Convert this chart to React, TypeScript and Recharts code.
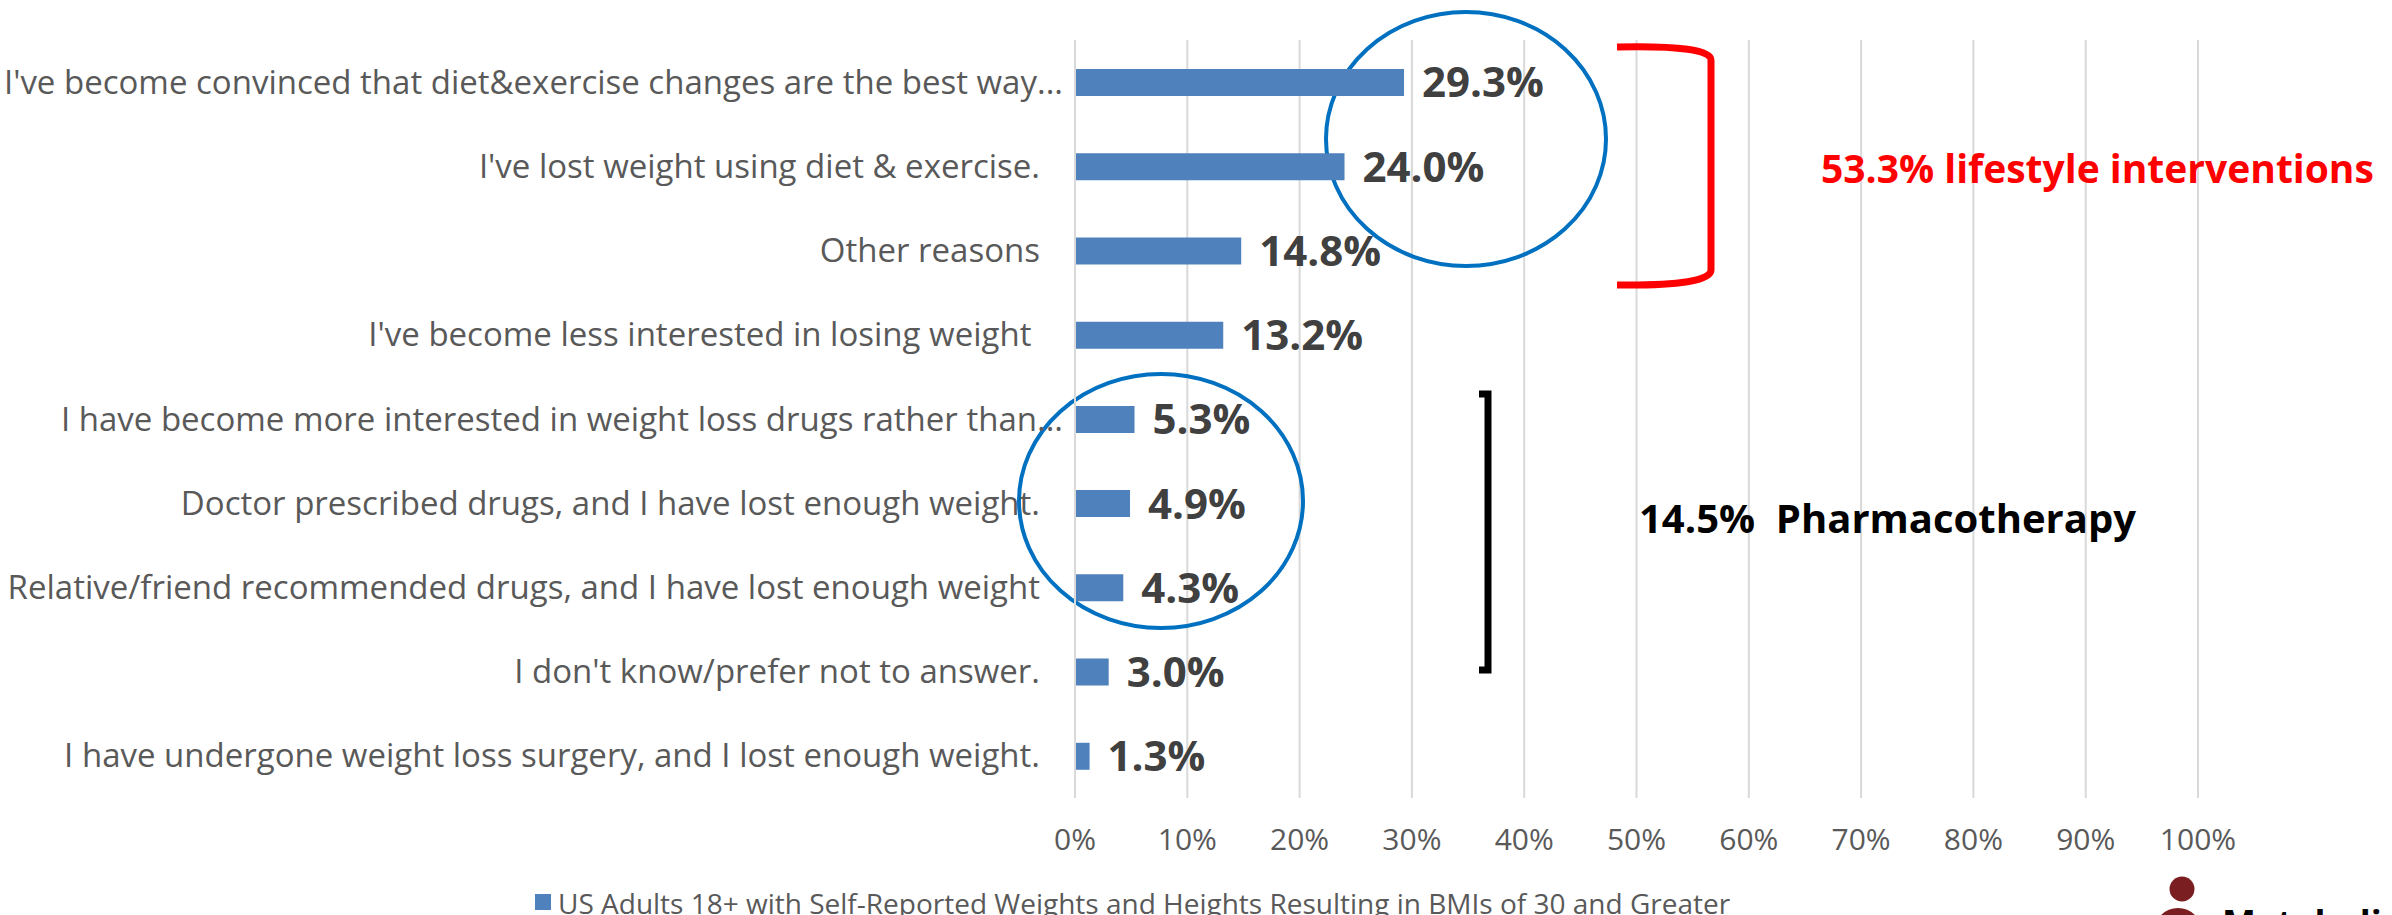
import React from "react";
import {
  Bar,
  BarChart,
  CartesianGrid,
  Customized,
  LabelList,
  Legend,
  XAxis,
  YAxis,
} from "recharts";

const reasons = [
  "I've become convinced that diet&exercise changes are the best way...",
  "I've lost weight using diet & exercise.",
  "Other reasons",
  "I've become less interested in losing weight ",
  "I have become more interested in weight loss drugs rather than...",
  "Doctor prescribed drugs, and I have lost enough weight.",
  "Relative/friend recommended drugs, and I have lost enough weight",
  "I don't know/prefer not to answer.",
  "I have undergone weight loss surgery, and I lost enough weight.",
];
const shares = [29.3, 24.0, 14.8, 13.2, 5.3, 4.9, 4.3, 3.0, 1.3];
const xTicks = [0, 10, 20, 30, 40, 50, 60, 70, 80, 90, 100];
const seriesName =
  "US Adults 18+ with Self-Reported Weights and Heights Resulting in BMIs of 30 and Greater";
const lifestyleNote = "53.3% lifestyle interventions";
const pharmaNote = "14.5%  Pharmacotherapy";

const data = reasons.map((name, i) => ({ name, value: shares[i] }));

const FONT = "'Open Sans', sans-serif";
const BLUE = "#4F81BD";
const GREY = "#595959";

function ReasonTick({ x, y, payload }: any) {
  const label: string = payload.value;
  // Excel's truncated labels run closer to the axis
  const dx = label.endsWith("...") ? -4 : -27;
  return (
    <text
      x={x + dx}
      y={y}
      dy="0.35em"
      textAnchor="end"
      fill={GREY}
      fontSize={33}
      fontFamily={FONT}
      style={{ whiteSpace: "pre" }}
    >
      {label}
    </text>
  );
}

function LegendBox() {
  return (
    <div style={{ position: "relative", height: 30, fontFamily: FONT }}>
      <div
        style={{
          position: "absolute",
          left: 535,
          top: 9,
          width: 16,
          height: 16,
          background: BLUE,
        }}
      />
      <div
        style={{
          position: "absolute",
          left: 558,
          top: 0,
          fontSize: 28,
          lineHeight: "36px",
          color: GREY,
          whiteSpace: "nowrap",
        }}
      >
        {seriesName}
      </div>
    </div>
  );
}

function Annotations() {
  return (
    <g>
      <ellipse cx={1466} cy={139} rx={140} ry={127} fill="none" stroke="#0070C0" strokeWidth={4} />
      <ellipse cx={1161} cy={501} rx={142} ry={127} fill="none" stroke="#0070C0" strokeWidth={4} />
      <path
        d="M1617,47 Q1711,45 1711,60 L1711,270 Q1711,286 1617,285"
        fill="none"
        stroke="#FF0000"
        strokeWidth={7}
      />
      <path
        d="M1479,394 L1488,394 L1488,670 L1479,670"
        fill="none"
        stroke="#000000"
        strokeWidth={7}
      />
      <text x={1821} y={183} fill="#FF0000" fontSize={39} fontWeight="bold" fontFamily={FONT}>
        {lifestyleNote}
      </text>
      <text x={1639} y={533} fill="#000000" fontSize={40} fontWeight="bold" fontFamily={FONT} style={{ whiteSpace: "pre" }}>
        {pharmaNote}
      </text>
      <circle cx={2182} cy={889} r={12.5} fill="#7B1E22" />
      <ellipse cx={2178} cy={932} rx={24} ry={24} fill="#7B1E22" />
      <text x={2222} y={936} fill="#000000" fontSize={36} fontWeight="bold" fontFamily={FONT}>
        Metabolic
      </text>
    </g>
  );
}

export default function App() {
  return (
    <div style={{ position: "absolute", left: 0, top: 0, width: 2392, height: 915, background: "#fff" }}>
      <BarChart
        width={2392}
        height={915}
        data={data}
        layout="vertical"
        margin={{ top: 40, right: 194, left: 0, bottom: 0 }}
        barSize={27}
      >
        <CartesianGrid horizontal={false} stroke="#D9D9D9" strokeWidth={2} />
        <XAxis
          type="number"
          domain={[0, 100]}
          ticks={xTicks}
          tickFormatter={(v) => `${v}%`}
          axisLine={false}
          tickLine={false}
          height={87}
          tickMargin={25}
          tick={{ fill: GREY, fontSize: 30, fontFamily: FONT }}
        />
        <YAxis
          type="category"
          dataKey="name"
          width={1075}
          axisLine={{ stroke: "#D9D9D9", strokeWidth: 2 }}
          tickLine={false}
          tick={<ReasonTick />}
          interval={0}
        />
        <Legend verticalAlign="bottom" content={<LegendBox />} wrapperStyle={{ left: 0, width: 2392, bottom: 0, height: 30 }} />
        <Bar dataKey="value" name={seriesName} fill={BLUE} isAnimationActive={false}>
          <LabelList
            dataKey="value"
            position="right"
            offset={18}
            formatter={(v: any) => `${Number(v).toFixed(1)}%`}
            fill="#404040"
            fontSize={42}
            fontWeight="bold"
            fontFamily={FONT}
          />
        </Bar>
        <Customized component={Annotations} />
      </BarChart>
    </div>
  );
}
